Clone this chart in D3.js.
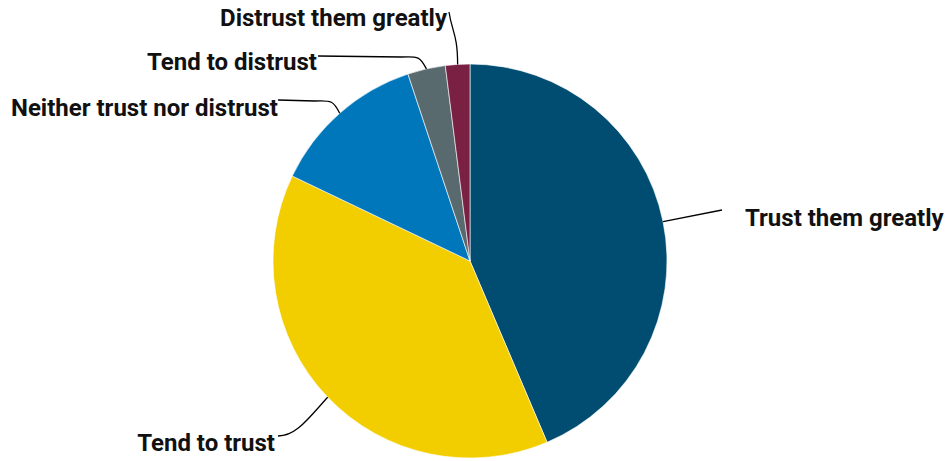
<!DOCTYPE html>
<html><head><meta charset="utf-8">
<script src="https://cdn.jsdelivr.net/npm/d3@7"></script>
<style>html,body{margin:0;padding:0;background:#fff;}svg{display:block;}</style>
</head><body>
<svg id="c" width="946" height="461"></svg>
<script>
const categories = ["Trust them greatly","Tend to trust","Neither trust nor distrust","Tend to distrust","Distrust them greatly"];
const values = [43.6, 38.5, 12.8, 3.1, 2.0];
const colors = ["#004d71","#f2cd00","#0077bb","#596a6f","#7a2043"];

// label layout: leader end point and label anchor (layout only)
const layout = [
  {ex:722, ey:210, tx:745, ty:226, anchor:"start", c:"line"},
  {ex:278, ey:436, tx:275, ty:451, anchor:"end", c:"curveA"},
  {ex:278, ey:100, tx:278, ty:116, anchor:"end", c:"curveB"},
  {ex:318, ey:56, tx:317, ty:70, anchor:"end", c:"curveB"},
  {ex:449, ey:12, tx:447, ty:26, anchor:"end", c:"curveC"}
];

const svg = d3.select("#c");
const cx = 470, cy = 261, r = 197;
const g = svg.append("g").attr("transform",`translate(${cx},${cy})`);
const pie = d3.pie().sort(null).value(d=>d)(values);
const arc = d3.arc().innerRadius(0).outerRadius(r);
g.selectAll("path.s").data(pie).join("path").attr("class","s")
  .attr("d",arc).attr("fill",(d,i)=>colors[i])
  .attr("stroke","#fff").attr("stroke-width",0.6);

pie.forEach((d,i)=>{
  const a = (d.startAngle+d.endAngle)/2;
  const sx = cx + r*Math.sin(a), sy = cy - r*Math.cos(a);
  const L = layout[i];
  let p;
  if (L.c==="line") p = `M${sx},${sy}L${L.ex},${L.ey}`;
  else if (L.c==="curveA") p = `M${sx},${sy}C${sx-20},${sy+22} ${L.ex+18},${L.ey} ${L.ex},${L.ey}`;
  else if (L.c==="curveB") p = `M${sx},${sy}C${sx-6},${sy-12} ${sx-8},${L.ey} ${sx-25},${L.ey+1}L${L.ex},${L.ey}`;
  else p = `M${sx},${sy}C${sx},${sy-30} ${L.ex+3},${L.ey+20} ${L.ex},${L.ey}`;
  svg.append("path").attr("d",p).attr("fill","none").attr("stroke","#000").attr("stroke-width",1.3);
  svg.append("text").attr("x",L.tx).attr("y",L.ty).attr("text-anchor",L.anchor)
    .attr("font-family","Roboto, 'Noto Sans', sans-serif").attr("font-weight",700)
    .attr("font-size",24).attr("fill","#111").text(categories[i]);
});
</script>
</body></html>
